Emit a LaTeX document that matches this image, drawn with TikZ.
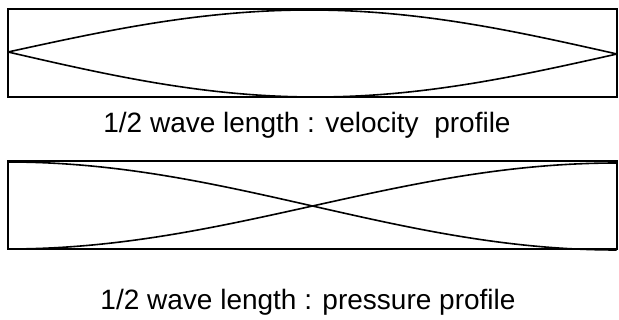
\documentclass[tikz,border=0pt]{standalone}
\usepackage{fontspec}
\setmainfont{Liberation Sans}
\begin{document}
\begin{tikzpicture}[x=1pt,y=-1pt,
  frame/.style={draw=black,line width=2.3pt},
  curve/.style={draw=black,line width=1.6pt},
  caption/.style={anchor=base,inner sep=0pt,font=\fontsize{28}{33}\selectfont}]
\useasboundingbox (0,0) rectangle (619,320);
% top: velocity profile
\draw[frame] (8,9) rectangle (617,97);
\draw[curve] plot[domain=0:1,samples=80,smooth] ({8+609*\x},{52+2*\x-43*sin(180*\x)});
\draw[curve] plot[domain=0:1,samples=80,smooth] ({8+609*\x},{52+2*\x+44*sin(180*\x)});
\node[caption] (cap1) at (307,133) {1/2 wave length : velocity\ \ profile};
% bottom: pressure profile
\draw[frame] (8,161) rectangle (617,249);
\draw[curve] plot[domain=0:1,samples=80,smooth] ({8+609*\x},{206-44*cos(180*\x)});
\draw[curve] plot[domain=0:1,samples=80,smooth] ({8+609*\x},{206+43*cos(180*\x)});
\node[caption] (cap2) at (308,310) {1/2 wave length : pressure profile};
\end{tikzpicture}
\end{document}
